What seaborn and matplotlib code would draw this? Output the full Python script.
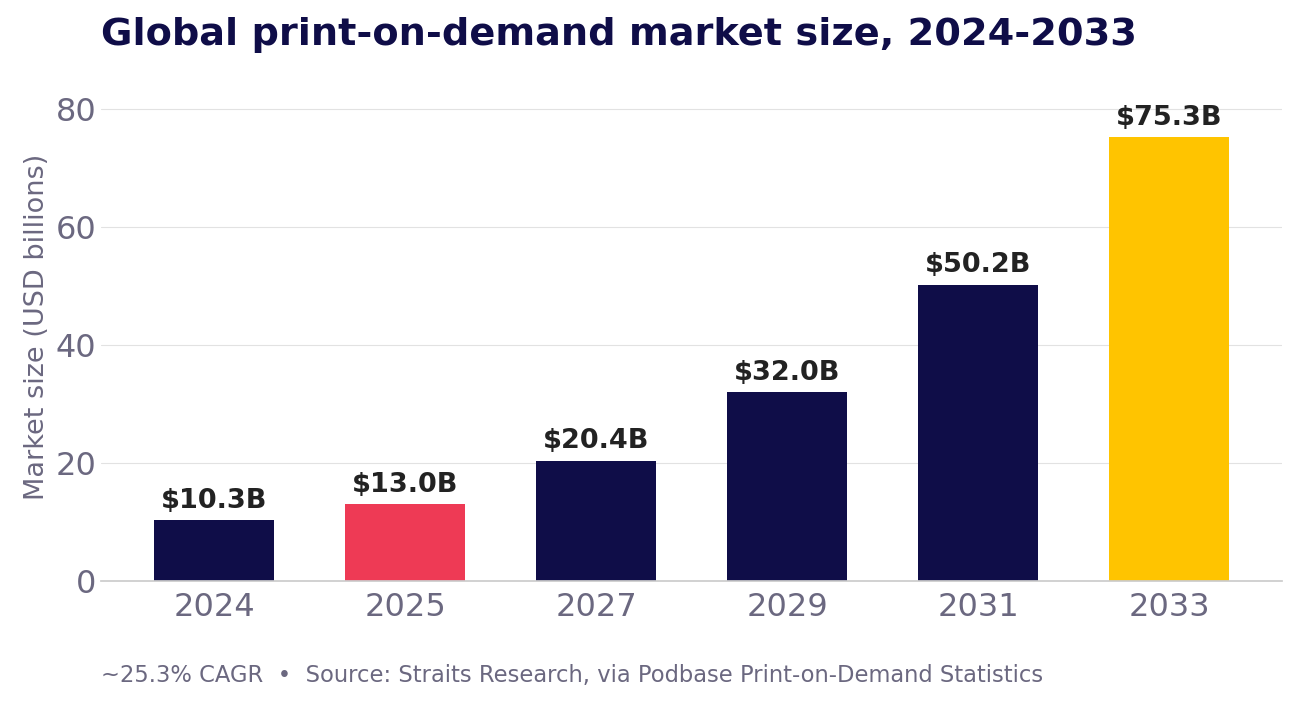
import matplotlib
matplotlib.use("Agg")
import matplotlib.pyplot as plt
import seaborn as sns
import pandas as pd

years = ["2024", "2025", "2027", "2029", "2031", "2033"]
values = [10.3, 13.0, 20.4, 32.0, 50.2, 75.3]
colors = ["#0f0d48", "#ee3a55", "#0f0d48", "#0f0d48", "#0f0d48", "#ffc400"]

df = pd.DataFrame({"year": years, "value": values})

sns.set_theme(style="white")
plt.rcParams["font.family"] = ["DejaVu Sans"]

fig = plt.figure(figsize=(13, 7.04), dpi=100)
ax = fig.add_axes([0.078, 0.175, 0.908, 0.72])

sns.barplot(data=df, x="year", y="value", hue="year", palette=colors,
            legend=False, width=0.63, saturation=1, linewidth=0, ax=ax)

for i, v in enumerate(values):
    ax.text(i, v + 1.1, f"${v:.1f}B", ha="center", va="bottom",
            fontsize=19.5, fontweight="bold", color="#222222")

ax.set_xlim(-0.59, 5.59)
ax.set_ylim(0, 86)
ax.set_yticks([0, 20, 40, 60, 80])
ax.yaxis.grid(True, color="#e2e2e2", linewidth=0.8)
ax.set_axisbelow(True)
for s in ["top", "right", "left"]:
    ax.spines[s].set_visible(False)
ax.spines["bottom"].set_color("#cccccc")
ax.tick_params(axis="both", length=0, labelsize=23, labelcolor="#6b6880")
ax.tick_params(axis="x", pad=8)
ax.set_xlabel("")
ax.set_ylabel("Market size (USD billions)", fontsize=19.5, color="#6b6880")

fig.text(0.078, 0.95, "Global print-on-demand market size, 2024-2033",
         fontsize=27.5, fontweight="bold", color="#0f0d48", va="center")
fig.text(0.078, 0.041,
         "~25.3% CAGR  \u2022  Source: Straits Research, via Podbase Print-on-Demand Statistics",
         fontsize=16.3, color="#6b6880", va="center")

fig.savefig("out.png", dpi=100)
